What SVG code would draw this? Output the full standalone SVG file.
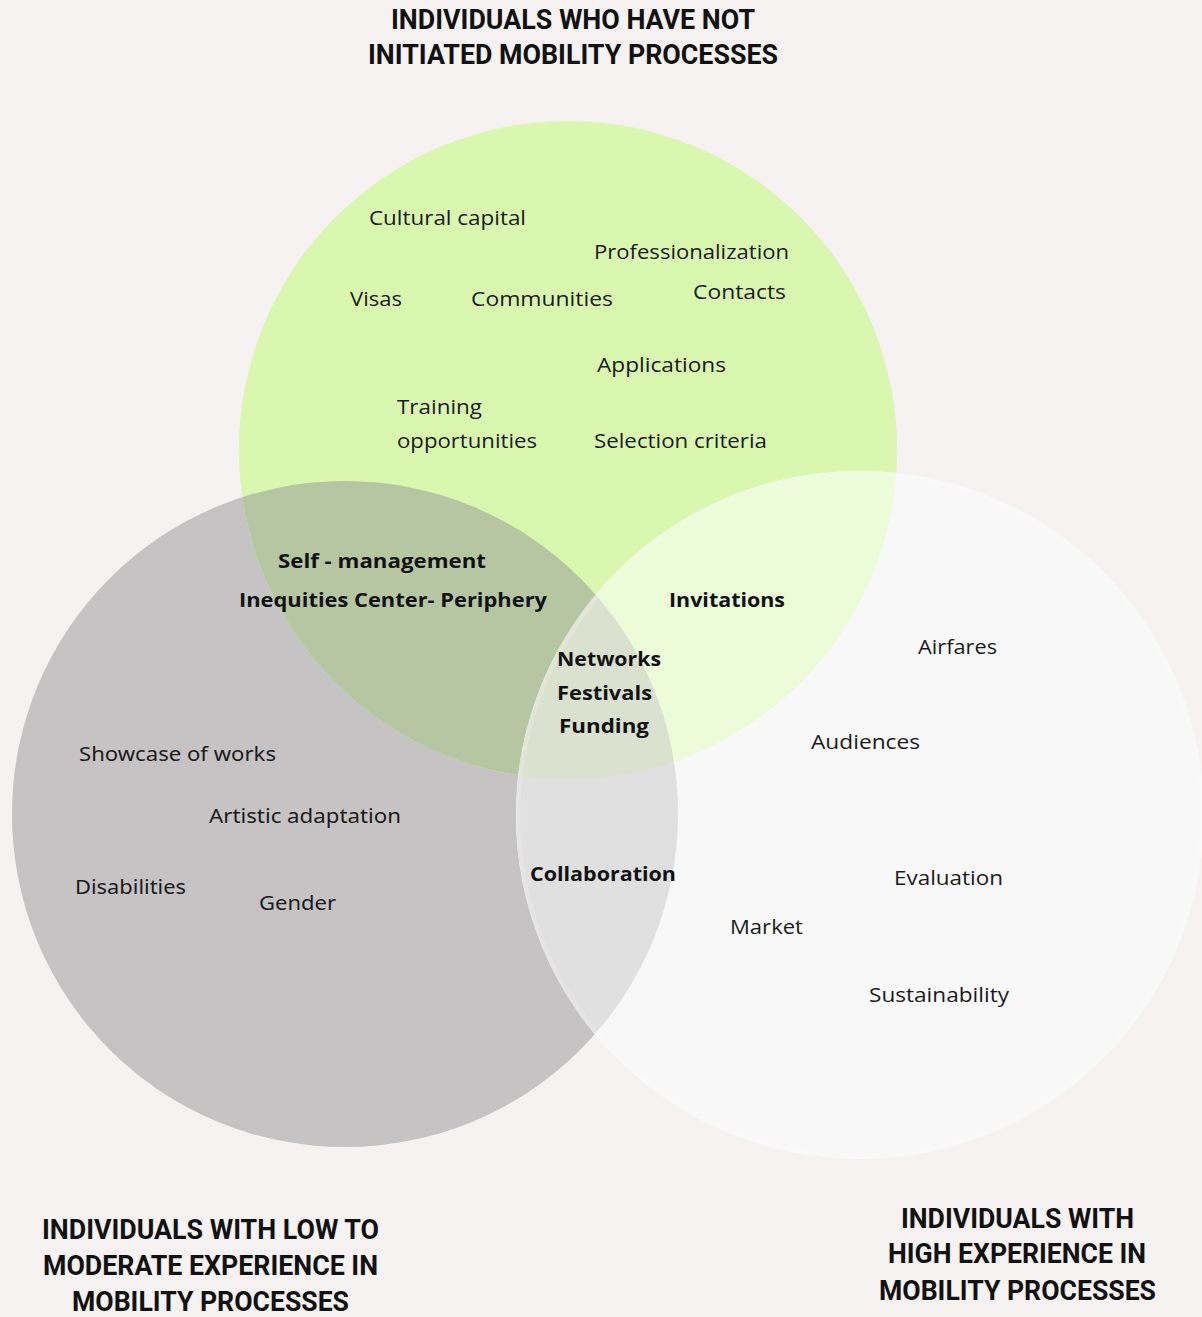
<svg xmlns="http://www.w3.org/2000/svg" width="1202" height="1317" viewBox="0 0 1202 1317">
<style>
.lbl{font-family:"Open Sans","Noto Sans","Liberation Sans",sans-serif;font-size:20px;fill:#1a1a1a}
.lbl2{font-family:"Noto Sans","Open Sans","Liberation Sans",sans-serif;font-size:20px;font-weight:400;fill:#1a1a1a}
.bold{font-family:"Open Sans","Noto Sans","Liberation Sans",sans-serif;font-size:20px;font-weight:700;fill:#111}
.title{font-family:Roboto,"Liberation Sans",sans-serif;font-size:27px;font-weight:700;fill:#111}
</style>
<defs>
<clipPath id="cGreen"><circle cx="568" cy="450" r="329"/></clipPath>
<clipPath id="cGray"><circle cx="345" cy="814" r="333"/></clipPath>
</defs>
<rect width="1202" height="1317" fill="#f5f2f1"/>
<g id="set-low-moderate">
<circle cx="345" cy="814" r="333" fill="#c5c3c4"/>
</g>
<g id="set-not-initiated">
<circle cx="568" cy="450" r="329" fill="#daf7b0"/>
</g>
<g id="set-high">
<circle cx="860" cy="815" r="344" fill="#f9f8f9"/>
</g>
<g id="overlaps">
<circle cx="568" cy="450" r="329" fill="#b6c6a3" clip-path="url(#cGray)"/>
<circle cx="860" cy="815" r="344" fill="#ecfbd8" clip-path="url(#cGreen)"/>
<circle cx="860" cy="815" r="344" fill="#e0e0e0" clip-path="url(#cGray)"/>
<g clip-path="url(#cGray)"><circle cx="860" cy="815" r="344" fill="#dbe1cf" clip-path="url(#cGreen)"/></g>
<circle cx="860" cy="815" r="342" fill="none" stroke="#ffffff" stroke-opacity="0.18" stroke-width="5"/>
</g>
<g id="connectors"/>
<g id="title-top">
<text class="title" x="391" y="29" textLength="364" lengthAdjust="spacingAndGlyphs">INDIVIDUALS WHO HAVE NOT</text>
<text class="title" x="368" y="64" textLength="410" lengthAdjust="spacingAndGlyphs">INITIATED MOBILITY PROCESSES</text>
</g>
<g id="title-left">
<text class="title" x="42" y="1239" textLength="337" lengthAdjust="spacingAndGlyphs">INDIVIDUALS WITH LOW TO</text>
<text class="title" x="43" y="1275" textLength="335" lengthAdjust="spacingAndGlyphs">MODERATE EXPERIENCE IN</text>
<text class="title" x="72" y="1311" textLength="277" lengthAdjust="spacingAndGlyphs">MOBILITY PROCESSES</text>
</g>
<g id="title-right">
<text class="title" x="901" y="1228" textLength="233" lengthAdjust="spacingAndGlyphs">INDIVIDUALS WITH</text>
<text class="title" x="888" y="1263" textLength="258" lengthAdjust="spacingAndGlyphs">HIGH EXPERIENCE IN</text>
<text class="title" x="879" y="1300" textLength="277" lengthAdjust="spacingAndGlyphs">MOBILITY PROCESSES</text>
</g>
<g id="labels-not-initiated">
<text class="lbl" x="369" y="225" textLength="157" lengthAdjust="spacingAndGlyphs">Cultural capital</text>
<text class="lbl" x="594" y="259" textLength="195" lengthAdjust="spacingAndGlyphs">Professionalization</text>
<text class="lbl" x="350" y="306" textLength="52" lengthAdjust="spacingAndGlyphs">Visas</text>
<text class="lbl" x="471" y="306" textLength="142" lengthAdjust="spacingAndGlyphs">Communities</text>
<text class="lbl" x="693" y="299" textLength="93" lengthAdjust="spacingAndGlyphs">Contacts</text>
<text class="lbl" x="597" y="372" textLength="129" lengthAdjust="spacingAndGlyphs">Applications</text>
<text class="lbl" x="397" y="414" textLength="85" lengthAdjust="spacingAndGlyphs">Training</text>
<text class="lbl" x="397" y="448" textLength="140" lengthAdjust="spacingAndGlyphs">opportunities</text>
<text class="lbl" x="594" y="448" textLength="173" lengthAdjust="spacingAndGlyphs">Selection criteria</text>
</g>
<g id="labels-not-initiated-low">
<text class="bold" x="278" y="568" textLength="208" lengthAdjust="spacingAndGlyphs">Self - management</text>
<text class="bold" x="239" y="607" textLength="308" lengthAdjust="spacingAndGlyphs">Inequities Center- Periphery</text>
</g>
<g id="labels-not-initiated-high">
<text class="bold" x="669" y="607" textLength="116" lengthAdjust="spacingAndGlyphs">Invitations</text>
</g>
<g id="labels-all">
<text class="bold" x="557" y="666" textLength="104" lengthAdjust="spacingAndGlyphs">Networks</text>
<text class="bold" x="557" y="700" textLength="95" lengthAdjust="spacingAndGlyphs">Festivals</text>
<text class="bold" x="559" y="733" textLength="90" lengthAdjust="spacingAndGlyphs">Funding</text>
</g>
<g id="labels-low-high">
<text class="bold" x="530" y="881" textLength="146" lengthAdjust="spacingAndGlyphs">Collaboration</text>
</g>
<g id="labels-low">
<text class="lbl2" x="79" y="761" textLength="197" lengthAdjust="spacingAndGlyphs">Showcase of works</text>
<text class="lbl2" x="209" y="823" textLength="192" lengthAdjust="spacingAndGlyphs">Artistic adaptation</text>
<text class="lbl2" x="75" y="894" textLength="111" lengthAdjust="spacingAndGlyphs">Disabilities</text>
<text class="lbl2" x="259" y="910" textLength="77" lengthAdjust="spacingAndGlyphs">Gender</text>
</g>
<g id="labels-high">
<text class="lbl" x="918" y="654" textLength="79" lengthAdjust="spacingAndGlyphs">Airfares</text>
<text class="lbl" x="811" y="749" textLength="109" lengthAdjust="spacingAndGlyphs">Audiences</text>
<text class="lbl" x="894" y="885" textLength="109" lengthAdjust="spacingAndGlyphs">Evaluation</text>
<text class="lbl" x="730" y="934" textLength="73" lengthAdjust="spacingAndGlyphs">Market</text>
<text class="lbl" x="869" y="1002" textLength="140" lengthAdjust="spacingAndGlyphs">Sustainability</text>
</g>
</svg>
